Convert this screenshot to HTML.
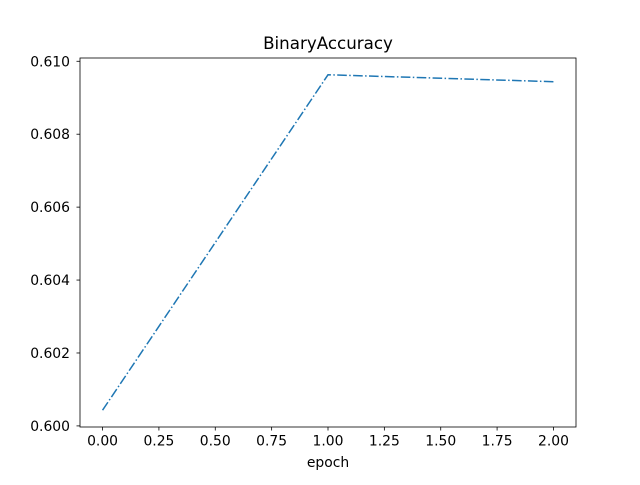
<!DOCTYPE html>
<html><head><meta charset="utf-8"><style>
body{margin:0;background:#fff;}
svg text{font-family:"DejaVu Sans","Liberation Sans",sans-serif;fill:#000;}
</style></head><body>
<svg id="chart" width="640" height="480" xmlns="http://www.w3.org/2000/svg">
<rect width="640" height="480" fill="#fff"/>
<text x="328" y="49" font-size="16.7" text-anchor="middle">BinaryAccuracy</text>
<g id="ticks"></g>
<polyline id="line" fill="none" stroke="#1f77b4" stroke-width="1.5" stroke-dasharray="9.6,2.4,1.5,2.4"/>
<rect x="80" y="58" width="496" height="369" fill="none" stroke="#000" stroke-width="0.8"/>
<text x="328" y="467" font-size="13.9" text-anchor="middle">epoch</text>
</svg>
<script>
const epochs=[0,1,2];
const accuracy=[0.60043,0.60963,0.60944];
const xTicks=[0,0.25,0.5,0.75,1,1.25,1.5,1.75,2];
const xTickLabels=["0.00","0.25","0.50","0.75","1.00","1.25","1.50","1.75","2.00"];
const yTicks=[0.600,0.602,0.604,0.606,0.608,0.610];
const yTickLabels=["0.600","0.602","0.604","0.606","0.608","0.610"];
const L=80,R=576,T=58,B=427;
const xmin=-0.1,xmax=2.1;
const ymin=0.599970,ymax=0.610090;
const sx=v=>L+(v-xmin)/(xmax-xmin)*(R-L);
const sy=v=>B-(v-ymin)/(ymax-ymin)*(B-T);
const NS="http://www.w3.org/2000/svg";
const g=document.getElementById('ticks');
function mk(tag,attrs){const e=document.createElementNS(NS,tag);for(const k in attrs)e.setAttribute(k,attrs[k]);g.appendChild(e);return e;}
xTicks.forEach((v,i)=>{
 const t=mk('line',{x1:sx(v),x2:sx(v),y1:B,y2:B+3.5,stroke:'#000','stroke-width':0.8});
 
 
 const l=mk('text',{x:sx(v),y:B+18.5,'font-size':13.9,'text-anchor':'middle'});
 l.textContent=xTickLabels[i];
 
 
});
yTicks.forEach((v,i)=>{
 const t=mk('line',{x1:L-3.5,x2:L,y1:sy(v),y2:sy(v),stroke:'#000','stroke-width':0.8});
 
 
 const l=mk('text',{x:L-10,y:sy(v)+5,'font-size':13.9,'text-anchor':'end'});
 l.textContent=yTickLabels[i];
 
 
});
document.getElementById('line').setAttribute('points',epochs.map((e,i)=>sx(e)+','+sy(accuracy[i])).join(' '));
</script>
</body></html>
